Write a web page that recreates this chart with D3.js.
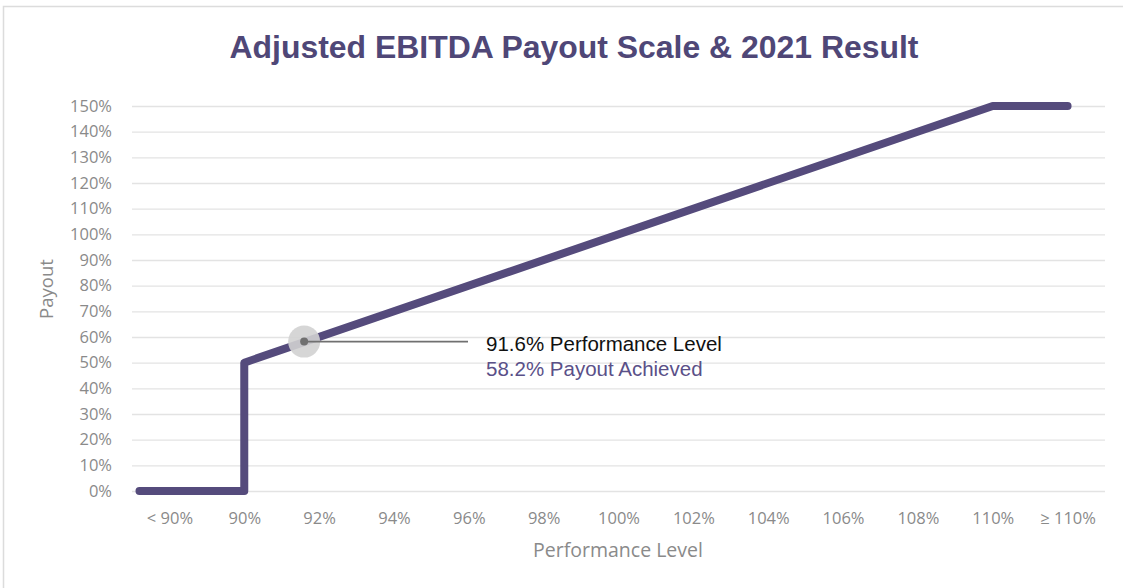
<!DOCTYPE html>
<html>
<head>
<meta charset="utf-8">
<script src="https://cdn.jsdelivr.net/npm/d3@7"></script>
<style>
  html, body { margin: 0; padding: 0; background: #fff; }
  svg { display: block; }
</style>
</head>
<body>
<svg id="chart" width="1123" height="588"></svg>
<script>
// Payout scale: performance level (%) -> payout (%)
const performance = [87.2, 90, 90, 110, 112];
const payout = [0, 0, 50, 150, 150];

// Axis ticks
const xTickValues = [88, 90, 92, 94, 96, 98, 100, 102, 104, 106, 108, 110, 112];
const xTickLabels = ["< 90%", "90%", "92%", "94%", "96%", "98%", "100%", "102%", "104%", "106%", "108%", "110%", "\u2265 110%"];
const yTickValues = [0, 10, 20, 30, 40, 50, 60, 70, 80, 90, 100, 110, 120, 130, 140, 150];

// 2021 result
const resultPerformance = 91.6;
const resultPayout = 58.2;

const svg = d3.select("#chart");
const W = 1123, H = 588;
const margin = { left: 132, right: 18, top: 106, bottom: 97 };

const x = d3.scaleLinear().domain([87, 113]).range([margin.left, W - margin.right]);
const y = d3.scaleLinear().domain([0, 150]).range([H - margin.bottom, margin.top]);

const purple = "#554b7c";
const grey = "#8a8a8a";
const axisFont = "'Open Sans', Lato, sans-serif";

// outer frame
svg.append("rect")
  .attr("x", 3.5).attr("y", 6.5)
  .attr("width", W + 10).attr("height", H + 10)
  .attr("fill", "none").attr("stroke", "#dcdcdc").attr("stroke-width", 1.5);

// title
svg.append("text")
  .attr("x", 574).attr("y", 57.5)
  .attr("text-anchor", "middle")
  .attr("font-family", "'Liberation Sans', Arial, sans-serif")
  .attr("font-weight", "bold")
  .attr("font-size", 31)
  .attr("textLength", 689)
  .attr("lengthAdjust", "spacingAndGlyphs")
  .attr("fill", "#4f4777")
  .text("Adjusted EBITDA Payout Scale & 2021 Result");

// horizontal gridlines + y labels
const yAxis = d3.axisLeft(y)
  .tickValues(yTickValues)
  .tickSize(-(W - margin.left - margin.right))
  .tickPadding(20)
  .tickFormat(d => d + "%");
const gy = svg.append("g")
  .attr("transform", `translate(${margin.left},0)`)
  .call(yAxis);
gy.select(".domain").remove();
gy.selectAll(".tick line").attr("stroke", "#e3e3e3").attr("stroke-width", 1.3);
gy.selectAll(".tick text")
  .attr("fill", grey)
  .attr("font-family", axisFont)
  .attr("font-size", 16.5);

// x labels
const xAxis = d3.axisBottom(x)
  .tickValues(xTickValues)
  .tickSize(0)
  .tickPadding(21)
  .tickFormat((d, i) => xTickLabels[i]);
const gx = svg.append("g")
  .attr("transform", `translate(0,${H - margin.bottom})`)
  .call(xAxis);
gx.select(".domain").remove();
gx.selectAll(".tick text")
  .attr("fill", grey)
  .attr("font-family", axisFont)
  .attr("font-size", 16.5);

// axis titles
svg.append("text")
  .attr("transform", "translate(53,289) rotate(-90)")
  .attr("text-anchor", "middle")
  .attr("font-family", axisFont)
  .attr("font-size", 18.5)
  .attr("fill", grey)
  .text("Payout");
svg.append("text")
  .attr("x", 618).attr("y", 557)
  .attr("text-anchor", "middle")
  .attr("font-family", axisFont)
  .attr("font-size", 19.5)
  .attr("fill", grey)
  .text("Performance Level");

// payout scale line
const line = d3.line()
  .x((d, i) => x(performance[i]))
  .y((d, i) => y(payout[i]));
svg.append("path")
  .datum(performance)
  .attr("d", line)
  .attr("fill", "none")
  .attr("stroke", purple)
  .attr("stroke-width", 8)
  .attr("stroke-linejoin", "round")
  .attr("stroke-linecap", "round");

// result marker and callout
const mx = x(resultPerformance), my = y(resultPayout);
svg.append("circle")
  .attr("cx", mx).attr("cy", my).attr("r", 16)
  .attr("fill", "#d2d2d2").attr("fill-opacity", 0.9);
svg.append("line")
  .attr("x1", mx).attr("y1", my)
  .attr("x2", 468).attr("y2", my)
  .attr("stroke", "#707070").attr("stroke-width", 1.6);
svg.append("circle")
  .attr("cx", mx).attr("cy", my).attr("r", 4)
  .attr("fill", "#707070");

svg.append("text")
  .attr("x", 486).attr("y", 351)
  .attr("font-family", "'Liberation Sans', Arial, sans-serif")
  .attr("font-size", 20.5)
  .attr("fill", "#111")
  .text(`${resultPerformance}% Performance Level`);
svg.append("text")
  .attr("x", 486).attr("y", 376)
  .attr("font-family", "'Liberation Sans', Arial, sans-serif")
  .attr("font-size", 20.5)
  .attr("fill", "#5a5088")
  .text(`${resultPayout}% Payout Achieved`);
</script>
</body>
</html>
